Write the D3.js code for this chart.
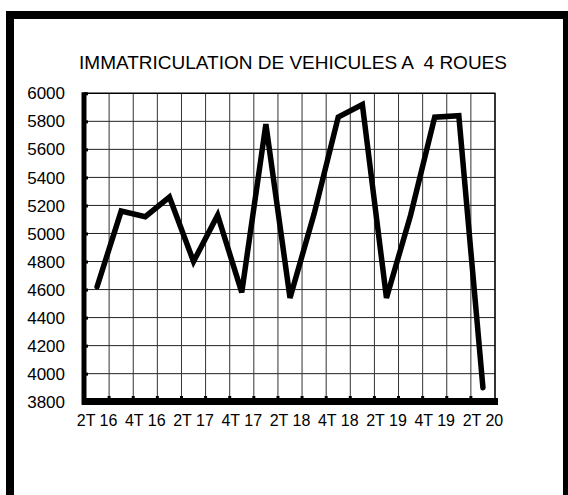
<!DOCTYPE html>
<html lang="fr">
<head>
<meta charset="UTF-8">
<script src="https://d3js.org/d3.v7.min.js"></script>
<style>
  body { margin: 0; background: #fff; }
  text { font-family: "Liberation Sans", Arial, sans-serif; fill: #000; }
</style>
</head>
<body>
<div id="chart"></div>
<script>
// quarters (17 categories, only every other one labelled)
var quarters = ["2T 16","3T 16","4T 16","1T 17","2T 17","3T 17","4T 17","1T 18","2T 18",
                "3T 18","4T 18","1T 19","2T 19","3T 19","4T 19","1T 20","2T 20"];
var immat = [4620, 5160, 5120, 5260, 4800, 5130, 4580, 5780, 4540,
             5140, 5830, 5920, 4540, 5130, 5830, 5840, 3900];
var yTicks = [3800, 4000, 4200, 4400, 4600, 4800, 5000, 5200, 5400, 5600, 5800, 6000];
var titre = "IMMATRICULATION DE VEHICULES A  4 ROUES";

var W = 568, H = 495;
var svg = d3.select("#chart").append("svg")
  .attr("width", W).attr("height", H);

// outer frame
svg.append("rect")
  .attr("x", 10).attr("y", 15)
  .attr("width", 557).attr("height", 500)
  .attr("fill", "none").attr("stroke", "#000").attr("stroke-width", 8);

svg.append("text")
  .attr("x", 293).attr("y", 69)
  .attr("text-anchor", "middle")
  .attr("font-size", "19px")
  .style("white-space", "pre")
  .text(titre);

var x = d3.scaleBand().domain(quarters).range([85, 495]);
var y = d3.scaleLinear().domain([3800, 6000]).range([401.7, 93.3]);

// grid
var grid = svg.append("g");
grid.selectAll(".hg").data(yTicks.slice(1, -1)).enter().append("line")
  .attr("x1", 85).attr("x2", 495)
  .attr("y1", function(d){ return y(d); }).attr("y2", function(d){ return y(d); })
  .attr("stroke", "#222").attr("stroke-width", 1);
grid.selectAll(".vg").data(quarters.slice(1)).enter().append("line")
  .attr("x1", function(d){ return x(d); }).attr("x2", function(d){ return x(d); })
  .attr("y1", y(6000)).attr("y2", y(3800))
  .attr("stroke", "#333").attr("stroke-width", 1);

// plot border top / right
svg.append("line").attr("x1", 85).attr("x2", 495.5)
  .attr("y1", y(6000)).attr("y2", y(6000))
  .attr("stroke", "#000").attr("stroke-width", 1.6);
svg.append("line").attr("x1", 495).attr("x2", 495)
  .attr("y1", y(6000)).attr("y2", y(3800))
  .attr("stroke", "#000").attr("stroke-width", 1.6);

// y axis (thick, ticks inside)
var yAxis = d3.axisRight(y).tickValues(yTicks).tickSize(4).tickFormat("");
var ya = svg.append("g").attr("transform", "translate(84,0)").call(yAxis);
ya.select(".domain").attr("stroke-width", 5).attr("d", "M0," + (y(6000) - 1) + "V" + (y(3800) + 3));
ya.selectAll(".tick line").attr("stroke-width", 3);

svg.selectAll(".ylab").data(yTicks).enter().append("text")
  .attr("x", 65).attr("y", function(d){ return y(d); })
  .attr("dy", "0.36em")
  .attr("text-anchor", "end")
  .attr("font-size", "17px")
  .text(function(d){ return d; });

// x axis (thick, ticks up at category borders)
var xa = svg.append("g");
xa.append("line").attr("x1", 82).attr("x2", 498)
  .attr("y1", 401.5).attr("y2", 401.5)
  .attr("stroke", "#000").attr("stroke-width", 7);
xa.selectAll(".xt").data(quarters.slice(1)).enter().append("line")
  .attr("x1", function(d){ return x(d); }).attr("x2", function(d){ return x(d); })
  .attr("y1", 401.5).attr("y2", 396)
  .attr("stroke", "#000").attr("stroke-width", 3);

svg.selectAll(".xlab").data(quarters.filter(function(d, i){ return i % 2 === 0; }))
  .enter().append("text")
  .attr("x", function(d){ return x(d) + x.bandwidth() / 2; })
  .attr("y", 426)
  .attr("text-anchor", "middle")
  .attr("font-size", "16px")
  .style("white-space", "pre")
  .text(function(d){ return d; });

// series
var line = d3.line()
  .x(function(d, i){ return x(quarters[i]) + x.bandwidth() / 2; })
  .y(function(d){ return y(d); });

svg.append("path").datum(immat)
  .attr("d", line)
  .attr("fill", "none")
  .attr("stroke", "#000")
  .attr("stroke-width", 5.5)
  .attr("stroke-linejoin", "miter")
  .attr("stroke-linecap", "round");
</script>
</body>
</html>
